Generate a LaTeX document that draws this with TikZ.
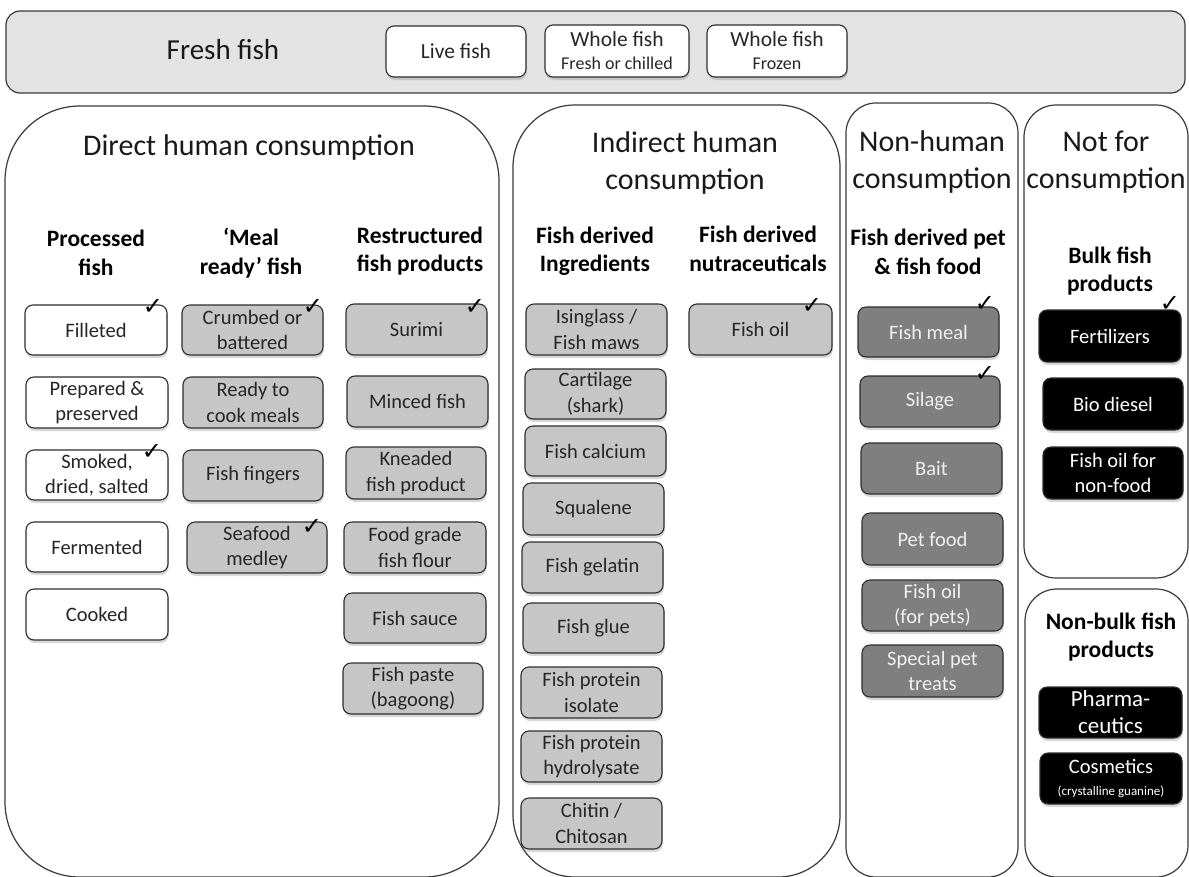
\documentclass[tikz,border=0pt]{standalone}
\usepackage{fontspec}
\setmainfont{Carlito}
\newfontfamily\symfont{DejaVu Sans}
\usetikzlibrary{shadows}
\definecolor{cBar}{HTML}{E3E3E3}
\definecolor{cLight}{HTML}{C6C6C6}
\definecolor{cDark}{HTML}{7F7F7F}
\definecolor{cEdge}{HTML}{2E2E2E}
\definecolor{cPanel}{HTML}{3A3A3A}
\tikzset{
  panel/.style={draw=cPanel, line width=1.2pt, fill=white},
  basebox/.style={draw=cEdge, line width=1.1pt, rounded corners=8pt, align=center, inner sep=0pt,
    drop shadow={shadow xshift=0.8pt, shadow yshift=-3pt, opacity=0.3},
    font=\fontsize{20.5}{25.5}\selectfont, text=black!85},
  whitebox/.style={basebox, fill=white},
  greybox/.style={basebox, fill=cLight},
  darkgreybox/.style={basebox, fill=cDark, text=white!94!black},
  blackbox/.style={basebox, fill=black, text=white},
  topbox/.style={basebox, fill=white, font=\fontsize{21.5}{25}\selectfont},
  paneltitle/.style={font=\fontsize{30}{37}\selectfont, align=center, text=black!90},
  colheader/.style={font=\bfseries\fontsize{23.5}{28.5}\selectfont, align=center, text=black},
  tick/.style={font=\symfont\fontsize{24}{24}\selectfont, inner sep=0pt, text=black},
}
\newcommand\bx[7]{\node[#6, minimum width={(#4-#2)*1pt}, minimum height={(#5-#3)*1pt}] (#1) at ({(#2+#4)/2},{(#3+#5)/2}) {#7};}
\begin{document}
\begin{tikzpicture}[x=1pt, y=-1pt]
\useasboundingbox (0,0) rectangle (1189,876);
\fill[white] (0,0) rectangle (1189,876);

% top bar
\draw[draw=cPanel, fill=cBar, line width=1.2pt, rounded corners=14pt] (6,11) rectangle (1185,93);
\node[font=\fontsize{29}{33}\selectfont, text=black!90] (fresh) at (223,50) {Fresh fish};
\bx{live}{386}{26}{526}{77}{topbox}{Live fish}
\bx{wholefresh}{545}{25}{689}{77}{topbox}{Whole fish\\[-2pt]{\fontsize{18}{20}\selectfont Fresh or chilled}}
\bx{wholefrozen}{707}{25}{847}{77}{topbox}{Whole fish\\[-2pt]{\fontsize{18}{20}\selectfont Frozen}}

% panels
\draw[panel, rounded corners=75pt] (5,106) rectangle (499,877);
\draw[panel, rounded corners=62pt] (513,105) rectangle (840,877);
\draw[panel, rounded corners=30pt] (846,103) rectangle (1018,877);
\draw[panel, rounded corners=32pt] (1024,105) rectangle (1188,578);
\draw[panel, rounded corners=32pt] (1025,589) rectangle (1188,877);

% titles
\node[paneltitle] (tdirect) at (249,147) {Direct human consumption};
\node[paneltitle] (tindirect) at (685,163) {Indirect human\\consumption};
\node[paneltitle] (tnonhuman) at (932,162) {Non-human\\consumption};
\node[paneltitle] (tnotfor) at (1106,162) {Not for\\consumption};

% column headers
\node[colheader] (hproc) at (96,253) {Processed\\fish};
\node[colheader] (hmeal) at (251,253) {‘Meal\\ready’ fish};
\node[colheader] (hrestr) at (420,251) {Restructured\\fish products};
\node[colheader] (hingr) at (595,251) {Fish derived\\Ingredients};
\node[colheader] (hnutra) at (758,249) {Fish derived\\nutraceuticals};
\node[colheader] (hpet) at (928,252) {Fish derived pet\\\& fish food};
\node[colheader] (hbulk) at (1110,271) {Bulk fish\\products};
\node[colheader] (hnonbulk) at (1111,637) {Non-bulk fish\\products};

% processed fish
\bx{fillet}{25}{305}{167}{355}{whitebox}{Filleted}
\bx{prep}{26}{377}{168}{428}{whitebox}{Prepared \&\\preserved}
\bx{smoked}{26}{450}{168}{500}{whitebox}{Smoked,\\dried, salted}
\bx{ferm}{26}{522}{168}{572}{whitebox}{Fermented}
\bx{cooked}{26}{589}{168}{640}{whitebox}{Cooked}

% meal ready
\bx{crumb}{182}{305}{323}{355}{greybox}{Crumbed or\\battered}
\bx{ready}{183}{377}{323}{428}{greybox}{Ready to\\cook meals}
\bx{fingers}{183}{450}{323}{501}{greybox}{Fish fingers}
\bx{medley}{187}{522}{327}{573}{greybox}{Seafood\\medley}

% restructured
\bx{surimi}{346}{304}{487}{355}{greybox}{Surimi}
\bx{minced}{347}{376}{488}{427}{greybox}{Minced fish}
\bx{kneaded}{346}{447}{486}{499}{greybox}{Kneaded\\fish product}
\bx{flour}{344}{522}{486}{573}{greybox}{Food grade\\fish flour}
\bx{sauce}{344}{593}{486}{643}{greybox}{Fish sauce}
\bx{paste}{343}{663}{483}{714}{greybox}{Fish paste\\(bagoong)}

% ingredients
\bx{isin}{526}{304}{667}{355}{greybox}{Isinglass /\\Fish maws}
\bx{cart}{525}{369}{666}{419}{greybox}{Cartilage\\(shark)}
\bx{calc}{525}{426}{666}{476}{greybox}{Fish calcium}
\bx{squal}{523}{483}{664}{535}{greybox}{Squalene}
\bx{gelat}{522}{542}{663}{593}{greybox}{Fish gelatin}
\bx{glue}{523}{603}{664}{653}{greybox}{Fish glue}
\bx{fpi}{521}{667}{662}{718}{greybox}{Fish protein\\isolate}
\bx{fph}{521}{731}{662}{782}{greybox}{Fish protein\\hydrolysate}
\bx{chitin}{521}{798}{662}{849}{greybox}{Chitin /\\Chitosan}

% nutraceuticals
\bx{fishoil}{689}{304}{832}{355}{greybox}{Fish oil}

% pet & fish food
\bx{meal}{858}{307}{999}{357}{darkgreybox}{Fish meal}
\bx{silage}{860}{376}{1000}{427}{darkgreybox}{Silage}
\bx{bait}{861}{443}{1002}{494}{darkgreybox}{Bait}
\bx{petfood}{862}{513}{1003}{565}{darkgreybox}{Pet food}
\bx{petoil}{862}{580}{1003}{631}{darkgreybox}{Fish oil\\(for pets)}
\bx{treats}{862}{645}{1003}{697}{darkgreybox}{Special pet\\treats}

% not for consumption
\bx{fert}{1039}{310}{1181}{362}{blackbox}{Fertilizers}
\bx{biodiesel}{1043}{378}{1183}{430}{blackbox}{Bio diesel}
\bx{nonfoodoil}{1043}{447}{1183}{499}{blackbox}{Fish oil for\\non-food}
\bx{pharma}{1039}{687}{1182}{738}{blackbox, font=\fontsize{23}{27}\selectfont}{Pharma-\\ceutics}
\bx{cosm}{1040}{753}{1182}{804}{blackbox}{Cosmetics\\[-4pt]{\fontsize{13}{15}\selectfont (crystalline guanine)}}

% ticks
\node[tick] (k1) at (153,307) {✓};
\node[tick] (k2) at (313,307) {✓};
\node[tick] (k3) at (475,307) {✓};
\node[tick] (k4) at (152,452) {✓};
\node[tick] (k5) at (312,527) {✓};
\node[tick] (k6) at (812,306) {✓};
\node[tick] (k7) at (985,304) {✓};
\node[tick] (k8) at (985,374) {✓};
\node[tick] (k9) at (1170,304) {✓};
\end{tikzpicture}
\end{document}
